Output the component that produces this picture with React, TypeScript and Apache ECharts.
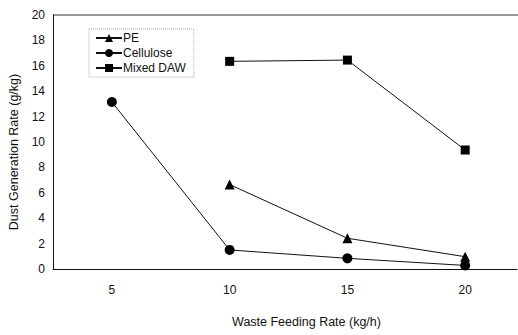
import React, { useEffect, useRef } from "react";
import * as echarts from "echarts";

const feedRates = [5, 10, 15, 20];
const peValues: (number | null)[] = [null, 6.65, 2.42, 0.97];
const celluloseValues: (number | null)[] = [13.15, 1.5, 0.84, 0.28];
const dawValues: (number | null)[] = [null, 16.35, 16.45, 9.37];
const yTicks = [0, 2, 4, 6, 8, 10, 12, 14, 16, 18, 20];

const toPairs = (vals: (number | null)[]) =>
  feedRates
    .map((x, i) => (vals[i] == null ? null : [x, vals[i]]))
    .filter((p) => p !== null);

export default function App() {
  const ref = useRef<HTMLDivElement>(null);
  useEffect(() => {
    if (!ref.current) return;
    const chart = echarts.init(ref.current, null, { renderer: "svg" });
    const font = "Liberation Sans, Arial, sans-serif";
    const mkSeries = (name: string, data: any[], symbol: string, size: number) => ({
      name,
      type: "line",
      data,
      symbol,
      symbolSize: size,
      lineStyle: { color: "#111", width: 1 },
      itemStyle: { color: "#000" },
      showAllSymbol: true,
    });
    chart.setOption({
      animation: false,
      backgroundColor: "#fff",
      textStyle: { fontFamily: font },
      grid: { left: 53, top: 15, right: 1, bottom: 66, outerBoundsMode: "none", containLabel: false },
      legend: {
        orient: "vertical",
        left: 89,
        top: 29,
        itemGap: 3,
        itemWidth: 26,
        itemHeight: 10,
        padding: [3, 8, 3, 6],
        borderColor: "#aaa",
        borderWidth: 1,
        borderType: "dotted",
        textStyle: { fontFamily: font, fontSize: 12, color: "#111", padding: [0, 0, 0, -4] },
        data: ["PE", "Cellulose", "Mixed DAW"],
      },
      xAxis: {
        type: "value",
        min: 2.5,
        max: 22.2,
        name: "Waste Feeding Rate (kg/h)",
        nameLocation: "middle",
        nameGap: 46,
        nameTextStyle: { fontFamily: font, fontSize: 12.5, color: "#111", padding: [0, 0, 0, 43] },
        axisLine: { lineStyle: { color: "#111", width: 1 } },
        axisTick: { show: false },
        splitLine: { show: false },
        axisLabel: {
          customValues: feedRates,
          fontFamily: font,
          fontSize: 12,
          color: "#111",
          margin: 15,
        },
      },
      yAxis: {
        type: "value",
        min: 0,
        max: 20,
        interval: 2,
        name: "Dust Generation Rate (g/kg)",
        nameLocation: "middle",
        nameGap: 31,
        nameTextStyle: { fontFamily: font, fontSize: 12.5, color: "#111", padding: [0, 20, 0, 0] },
        axisLine: { show: true, lineStyle: { color: "#111", width: 1 } },
        axisTick: { show: false },
        splitLine: { show: false },
        axisLabel: {
          customValues: yTicks,
          fontFamily: font,
          fontSize: 12,
          color: "#111",
          margin: 8,
        },
      },
      graphic: [
        {
          type: "line",
          shape: { x1: 53, y1: 15, x2: 518, y2: 15 },
          style: { stroke: "#333", lineWidth: 1 },
        },
      ],
      series: [
        mkSeries("PE", toPairs(peValues), "triangle", 10),
        mkSeries("Cellulose", toPairs(celluloseValues), "circle", 10),
        mkSeries("Mixed DAW", toPairs(dawValues), "rect", 9),
      ],
    });
    return () => chart.dispose();
  }, []);
  return (
    <div
      ref={ref}
      style={{ position: "fixed", left: 0, top: 0, width: 518, height: 335 }}
    />
  );
}
